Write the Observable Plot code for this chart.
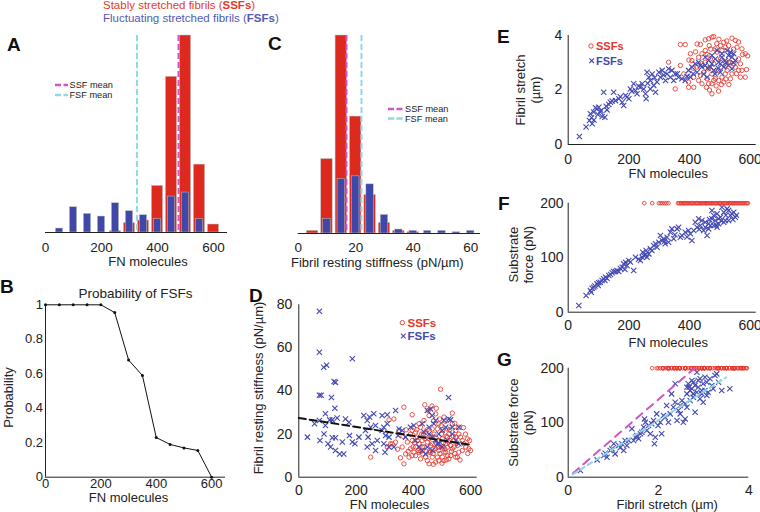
<!DOCTYPE html>
<html><head><meta charset="utf-8">
<script src="https://cdn.jsdelivr.net/npm/d3@7"></script>
<script src="https://cdn.jsdelivr.net/npm/@observablehq/plot@0.6"></script>
<style>
body{margin:0;background:#fff}
#fig{position:relative;width:760px;height:512px;overflow:hidden;font-family:"Liberation Sans",Arial,Helvetica,sans-serif}
</style></head>
<body><div id="fig"></div>
<script>
// ---------- data ----------
// Panel A: FN molecules histogram
const ssfFnBins = [250,300,350,400,450,500,550,600];
const ssfFnCounts = [1,7,9,35,117,148,51,6];
const fsfFnBins = [50,100,150,200,250,300,350,400,450,500,550];
const fsfFnCounts = [3,19,14,12,22,16,13,10,27,30,10];
const ssfFnMean = 475, fsfFnMean = 327;
// Panel C: resting stiffness histogram
const ssfKBins = [5,10,15,20,25,30,35,40];
const ssfKCounts = [2,56,149,88,29,8,2,1];
const fsfKBins = [10,15,20,25,30,35,40,45,50,55,60];
const fsfKCounts = [11,41,43,37,14,3,2,2,2,1,2];
const ssfKMean = 16.8, fsfKMean = 22.0;
// Panel B: probability of FSFs
const probFn = [0,50,100,150,200,250,300,350,400,450,500,550,600];
const probFsf = [1,1,1,1,1,0.955,0.68,0.59,0.23,0.19,0.17,0.155,0];
// Panel D: stiffness vs FN  [FN, stiffness]
const fsfStiff = [[72,77],[72,58],[87,51],[97,52],[187,55],[123,44.4],[128,44],[72,38],[78,38],[114,37],[126,32],[93,29.4],[30,18.6],[55,24.8],[72,26.3],[93,24],[108,26.6],[117,26.6],[134,27.5],[163,27],[175,25.5],[74,17],[88,20],[102,15.5],[117,18.3],[128,18.3],[111,14],[128,12.4],[143,10.8],[157,10.8],[152,16.3],[177,19.3],[187,16.3],[196,15.5],[210,18.6],[227,28.6],[239,26.3],[247,27.9],[262,29.4],[233,21.7],[251,23.2],[268,24],[256,15.5],[274,17],[242,18.6],[239,14],[268,12.4],[291,28.6],[309,29],[297,23.2],[309,24.8],[291,21.7],[315,18.6],[303,19.3],[297,15.5],[315,14],[301,11.6],[338,31],[332,14],[350,22.4],[361,21.7],[347,19.3],[373,18.6],[390,23.2],[402,24],[408,17],[420,14],[431,24.8],[437,21],[449,31],[460,31.7],[466,28.6],[478,26.3],[455,20],[466,18.6],[478,17],[489,20],[501,21.7],[449,14],[466,12.4],[484,15.5],[524,27],[530,26.6],[523,37],[507,26.3],[513,23.2],[536,23.2],[559,23.2],[519,17],[536,20],[501,14],[548,17],[559,15.5],[431,12.4],[443,10.8],[455,23.2],[472,24.8],[489,15.5]];
const ssfStiff = [[495,40.8],[367,32.5],[440,33.6],[536,29.7],[396,29],[315,26.6],[332,27],[350,21.7],[367,6.2],[251,9.3],[326,15.5],[338,16.3],[373,10.8],[385,9.3],[396,17],[399,14],[402,11.6],[414,18.6],[420,15.5],[417,12.4],[431,17],[437,14],[433,10.8],[429,20],[443,9.3],[449,7.7],[455,11.6],[460,14.7],[455,17.8],[466,9.3],[472,13.2],[478,16.3],[484,9.3],[472,20],[484,22.4],[489,12.4],[495,14.7],[501,17.8],[501,9.3],[507,7.7],[513,11.6],[519,13.9],[524,16.3],[524,20],[530,10],[536,13.2],[542,17],[548,9.3],[554,14.7],[559,11.6],[565,18.6],[571,12.4],[577,15.5],[583,14],[589,17.8],[594,13.2],[600,12.4],[420,24.8],[437,26.3],[455,28.6],[478,29.4],[507,27.9],[536,24.8],[548,21.7],[559,23.2],[408,20.9],[425,23.2],[443,20.9],[466,22.4],[489,24.8],[519,22.4],[390,20],[396,21.7],[379,16.3],[361,14],[390,13.2],[408,10],[425,8.5],[455,6.2],[478,7],[489,7.7],[524,8.5],[554,9.3],[449,16.3],[466,15.5],[478,13.2],[489,17],[513,15.5],[519,18.6],[530,14.7],[542,14],[501,14],[507,11.6],[431,14],[460,11.6],[559,20],[571,17],[548,18.6],[420,11.6],[408,14],[414,17],[309,14],[320,15.5],[462,19],[470,11],[480,18],[487,14],[493,11],[498,20],[505,16],[510,13],[515,19],[520,10],[527,17],[533,12],[540,19],[545,11],[552,16],[497,24],[503,22],[492,27],[512,26],[470,26],[448,22],[440,18],[445,12],[435,20],[426,12],[412,22],[404,16],[395,10],[382,12],[375,22],[364,19],[355,9],[345,13],[500,6.5],[470,6],[515,8],[480,32],[465,33],[452,31],[582,20],[590,11],[596,17],[575,23],[563,8],[545,25],[527,22]];
const fitFn = [0,600], fitStiff = [27.5,15];
// Panel E: stretch vs FN  [FN, stretch]
const fsfStretch = [[37,0.29],[59,0.64],[70,0.88],[77,0.98],[79,0.76],[73,1.13],[84,1.19],[90,1.35],[95,1.3],[101,1.37],[106,1.19],[112,1.03],[121,1.0],[117,1.92],[128,1.27],[134,1.47],[139,1.55],[150,1.92],[156,1.61],[167,1.68],[178,1.55],[183,1.43],[189,1.8],[194,1.74],[200,1.68],[205,2.04],[216,2.23],[222,1.98],[227,1.86],[238,2.1],[244,2.23],[249,2.04],[255,1.86],[257,1.68],[260,2.65],[266,2.47],[271,2.35],[277,2.59],[271,2.04],[282,2.17],[288,1.92],[293,2.29],[299,2.65],[304,2.47],[310,2.72],[321,2.35],[326,2.59],[331,2.78],[342,2.72],[337,2.47],[348,2.35],[353,2.59],[364,2.47],[375,2.41],[386,2.35],[397,2.72],[403,2.47],[408,2.84],[419,2.96],[430,3.02],[441,2.84],[452,2.9],[463,3.08],[474,2.96],[485,3.14],[496,3.02],[507,3.2],[518,3.08],[529,3.27],[540,3.2],[546,3.33],[551,3.08],[425,2.65],[447,2.59],[458,2.47],[480,2.72],[502,2.65],[513,2.84],[529,2.9],[540,2.78],[474,3.27],[491,3.45],[507,3.33],[524,3.45],[535,3.39],[452,3.2],[469,2.84],[485,2.59],[502,2.96],[85,0.9],[98,1.1],[108,1.25],[125,1.4],[145,1.6],[172,1.75],[210,1.95],[232,2.15],[262,2.25],[285,2.45],[315,2.55],[360,2.6],[392,2.5],[412,2.6],[436,2.9],[460,2.8],[495,2.8],[520,3.0],[545,3.0]];
const ssfStretch = [[370,3.67],[386,3.67],[425,3.69],[436,3.67],[452,3.84],[463,3.88],[474,3.94],[480,3.96],[465,3.63],[502,3.63],[513,3.75],[518,3.57],[551,3.82],[562,3.76],[573,3.51],[584,3.33],[557,3.57],[584,2.47],[562,2.72],[568,2.47],[331,3.02],[353,2.04],[370,2.9],[381,2.59],[397,2.1],[414,2.1],[397,2.29],[403,3.33],[408,3.08],[414,2.47],[474,1.86],[496,1.96],[430,2.35],[441,2.23],[463,2.23],[480,2.35],[430,3.2],[441,3.33],[452,3.02],[463,2.78],[474,2.59],[485,2.41],[496,2.72],[507,2.47],[518,2.59],[529,3.02],[540,2.59],[551,2.84],[447,2.65],[458,2.41],[469,3.14],[480,2.96],[491,3.39],[502,3.14],[513,2.29],[524,2.72],[535,2.41],[546,2.96],[425,2.84],[436,2.53],[452,3.45],[485,3.51],[529,3.63],[562,3.14],[568,2.96],[573,2.72],[441,2.96],[474,2.23],[496,2.35],[518,2.9],[507,3.45],[456,2.1],[466,2.0],[488,2.15],[505,2.2],[520,2.4],[535,3.0],[545,3.5],[490,3.7],[470,3.5],[458,3.3],[420,3.4],[398,3.1],[412,2.8],[530,2.2],[555,2.6],[575,3.3],[592,3.25],[588,2.75],[497,3.86],[523,3.8],[540,3.9]];
// Panel F: substrate force vs FN  [FN, force]
const fsfForce = [[35,12.3],[59,30.6],[73,39.8],[79,44],[76,36.7],[84,45.9],[95,52],[101,53.9],[106,55],[99,49],[117,61.2],[123,64.3],[128,62.4],[134,67.3],[121,58.1],[145,72.2],[150,74.7],[156,74.7],[161,76.5],[167,74.7],[178,82.6],[183,88.7],[189,91.8],[194,85.7],[187,78.3],[200,94.8],[216,76.5],[222,100.9],[238,94.8],[244,100.9],[249,104],[255,105.2],[260,100.9],[266,107],[246,110.1],[257,113.2],[271,116.2],[282,122.4],[288,125.4],[293,119.3],[299,128.5],[304,140.7],[310,131.5],[315,134.6],[320,125.4],[326,137.6],[331,128.5],[337,146.8],[342,152.9],[348,134.6],[359,152.9],[364,156],[370,137.6],[375,140.7],[386,146.8],[397,149.9],[403,143.8],[408,131.5],[414,149.9],[419,165.2],[425,156],[430,171.3],[436,159.1],[441,168.2],[447,149.9],[452,156],[458,140.7],[463,162.1],[469,159.1],[474,171.3],[480,177.4],[485,168.2],[491,180.5],[496,171.3],[502,174.3],[507,192.7],[513,183.5],[518,168.2],[524,189.6],[529,186.6],[535,177.4],[540,180.5],[546,183.5],[551,174.3],[452,165.2],[463,152.9],[480,159.1],[496,162.1],[513,165.2],[529,168.2],[491,156],[474,186.6],[88,48],[112,58],[140,69],[172,80],[205,92],[232,97],[276,113],[318,130],[352,142],[392,138],[432,152],[466,170],[488,160],[505,168],[520,178],[543,170],[555,178]];
const ssfForceFn = [251,277,299,305,311,318,324,331,362,366,371,374,379,383,386,391,395,398,403,407,410,414,419,423,426,431,434,438,442,447,451,455,458,462,467,471,474,478,483,487,490,495,499,502,506,511,515,518,523,527,531,534,539,543,547,551,556,560,563,568,572,576,580,585,589,593];
const ssfForceValue = 200;
// Panel G: force vs stretch  [stretch, force]
const fsfForceStretch = [[0.27,12.3],[0.64,31.8],[0.79,39.8],[0.82,44],[0.86,36.7],[0.93,49],[0.97,52],[1.04,42.8],[1.01,61.2],[1.12,58.1],[1.15,53.9],[1.19,61.2],[1.23,49],[1.30,58.1],[1.26,67.3],[1.34,67.3],[1.41,88.7],[1.45,67.3],[1.49,73.4],[1.52,76.5],[1.56,70.4],[1.60,79.6],[1.63,82.6],[1.67,91.8],[1.71,100.9],[1.69,107],[1.74,85.7],[1.78,94.8],[1.82,79.6],[1.85,97.9],[1.89,104],[1.91,61.2],[1.93,73.4],[1.96,116.2],[1.99,94.8],[2.04,100.9],[2.07,79.6],[2.11,113.2],[2.15,110.1],[2.18,131.5],[2.22,100.9],[2.26,116.2],[2.29,152.9],[2.33,128.5],[2.37,171.3],[2.41,104],[2.44,122.4],[2.48,116.2],[2.52,140.7],[2.55,100.9],[2.59,107],[2.63,128.5],[2.66,171.3],[2.68,165.2],[2.70,159.1],[2.74,177.4],[2.77,146.8],[2.81,119.3],[2.85,192.7],[2.88,165.2],[2.92,180.5],[2.96,152.9],[2.99,171.3],[3.03,159.1],[3.07,174.3],[3.10,156],[3.14,180.5],[3.18,168.2],[3.21,162.1],[3.25,186.6],[3.29,189.6],[3.33,174.3],[3.40,159.1],[3.58,162.1],[2.37,137.6],[2.48,131.5],[2.59,134.6],[2.70,140.7],[2.77,152.9],[2.85,156],[2.92,143.8],[2.99,137.6],[3.07,149.9],[2.63,165.2],[2.74,162.1],[2.81,168.2],[2.88,177.4],[2.96,159.1],[3.03,183.5],[2.63,152.9],[2.77,174.3]];
const ssfLine = [[0.1,7],[2.8,200]];
const fsfLine = [[0.1,5],[3.5,183]];

// ---------- styles ----------
const RED = "#de2a1e", BLUE = "#3f47a8", RDOT = "#e5352c", BDOT = "#4349b2";
const MAG = "#cf55c8", CYAN = "#8ed9e6", AX = "#222";
const FONT = '"Liberation Sans", Arial, Helvetica, sans-serif';
const fig = document.getElementById("fig");
const fmt = d => String(d);

function panel(o) {
  const svg = Plot.plot({
    width: o.w, height: o.h,
    marginLeft: o.ml, marginRight: o.mr, marginTop: o.mt, marginBottom: o.mb,
    style: {fontFamily: FONT, fontSize: o.fs + "px", color: AX, background: "transparent", overflow: "visible"},
    x: o.x, y: o.y, marks: o.marks
  });
  svg.style.position = "absolute";
  svg.style.left = o.left + "px";
  svg.style.top = o.top + "px";
  fig.appendChild(svg);
}
const xLabel = (t, dx, dy, fs = 13) => Plot.text([t], {text: d => d, frameAnchor: "bottom", textAnchor: "middle", lineAnchor: "middle", dx, dy, fontSize: fs, fill: AX});
const yLabel = (t, dx, dy, fs = 13) => Plot.text([t], {text: d => d, frameAnchor: "left", textAnchor: "middle", lineAnchor: "middle", rotate: -90, dx, dy, fontSize: fs, fill: AX});
const bars = (bins, counts, half, fill) => Plot.rectY(bins.map((b, i) => ({b, n: counts[i]})),
  {x1: d => d.b - half, x2: d => d.b + half, y: "n", fill, stroke: "#c4c4c4", strokeWidth: 0.5});
const crosses = (data) => Plot.dot(data, {x: d => d[0], y: d => d[1], symbol: "times", r: 2.5, stroke: BDOT, strokeWidth: 1.1});
const rings = (data, r = 2.2) => Plot.dot(data, {x: d => d[0], y: d => d[1], r, stroke: RDOT, fill: "none", strokeWidth: 0.85});
const dash = {strokeWidth: 2, strokeDasharray: "6,3"};

// A
panel({left: 0, top: 0, w: 240, h: 270, ml: 45, mr: 13, mt: 35, mb: 38, fs: 13.5,
  x: {domain: [0, 650], ticks: [0, 200, 400, 600], tickFormat: fmt, tickSize: 0, tickPadding: 10, label: null},
  y: {domain: [0, 148], axis: null},
  marks: [
    bars(ssfFnBins, ssfFnCounts, 20, RED),
    bars(fsfFnBins, fsfFnCounts, 13, BLUE),
    Plot.ruleX([fsfFnMean], {stroke: CYAN, ...dash}),
    Plot.ruleX([ssfFnMean], {stroke: MAG, ...dash}),
    Plot.ruleY([0], {stroke: AX}),
    xLabel("FN molecules", 11.5, 29.5)
  ]});

// C
panel({left: 250, top: 0, w: 240, h: 270, ml: 47.7, mr: 10, mt: 35, mb: 37, fs: 13.5,
  x: {domain: [0, 63.4], ticks: [0, 20, 40, 60], tickFormat: fmt, tickSize: 0, tickPadding: 9, label: null},
  y: {domain: [0, 149], axis: null},
  marks: [
    bars(ssfKBins, ssfKCounts, 2, RED),
    bars(fsfKBins, fsfKCounts, 1.3, BLUE),
    Plot.ruleX([fsfKMean], {stroke: CYAN, ...dash}),
    Plot.ruleX([ssfKMean], {stroke: MAG, ...dash}),
    Plot.ruleY([0], {stroke: AX}),
    xLabel("Fibril resting stiffness (pN/µm)", -12, 29.5)
  ]});

// B
const probData = probFn.map((x, i) => ({x, p: probFsf[i]}));
panel({left: 0, top: 270, w: 240, h: 242, ml: 45, mr: 15, mt: 34.3, mb: 35.3, fs: 13,
  x: {domain: [0, 650], ticks: [0, 200, 400, 600], tickFormat: fmt, tickSize: 0, tickPadding: 1.5, label: null},
  y: {domain: [0, 1], ticks: [0, 0.2, 0.4, 0.6, 0.8, 1], tickFormat: fmt, tickSize: 0, tickPadding: 2.5, label: null},
  marks: [
    Plot.ruleY([0], {stroke: AX}),
    Plot.ruleX([0], {stroke: AX}),
    Plot.line(probData, {x: "x", y: "p", stroke: "#111", strokeWidth: 1}),
    Plot.dot(probData, {x: "x", y: "p", r: 1.5, fill: "#111", stroke: "none"}),
    Plot.text(["Probability of FSFs"], {text: d => d, frameAnchor: "top", textAnchor: "middle", lineAnchor: "middle", dy: -11.3, fontSize: 13.5, fill: AX}),
    xLabel("FN molecules", -7, 20.5),
    yLabel("Probability", -37, 6.5)
  ]});

// D
panel({left: 250, top: 270, w: 240, h: 242, ml: 48.3, mr: 13.3, mt: 34.3, mb: 35.3, fs: 14,
  x: {domain: [0, 623], ticks: [0, 200, 400, 600], tickFormat: fmt, tickSize: 0, tickPadding: 8, label: null},
  y: {domain: [0, 80], ticks: [0, 20, 40, 60, 80], tickFormat: fmt, tickSize: 0, tickPadding: 6.5, label: null},
  marks: [
    Plot.ruleY([0], {stroke: AX}),
    Plot.ruleX([0], {stroke: AX}),
    rings(ssfStiff),
    crosses(fsfStiff),
    Plot.line(fitFn.map((x, i) => ({x, y: fitStiff[i]})), {x: "x", y: "y", stroke: "#111", strokeWidth: 2, strokeDasharray: "7,4"}),
    xLabel("FN molecules", 1.5, 27.8),
    yLabel("Fibril resting stiffness (pN/µm)", -40, -3)
  ]});

// E
panel({left: 500, top: 0, w: 260, h: 180, ml: 67.7, mr: 4.3, mt: 35, mb: 36, fs: 14,
  x: {domain: [0, 620], ticks: [0, 200, 400, 600], tickFormat: fmt, tickSize: 0, tickPadding: 9.5, label: null},
  y: {domain: [0, 4], ticks: [0, 2, 4], tickFormat: fmt, tickSize: 0, tickPadding: 6, label: null},
  marks: [
    Plot.ruleY([0], {stroke: AX}),
    Plot.ruleX([0], {stroke: AX}),
    rings(ssfStretch),
    crosses(fsfStretch),
    xLabel("FN molecules", 6, 29.5),
    yLabel("Fibril stretch", -47.7, 0),
    yLabel("(µm)", -32.7, 0)
  ]});

// F
panel({left: 500, top: 180, w: 260, h: 170, ml: 67.7, mr: 4.3, mt: 22.7, mb: 38.3, fs: 14,
  x: {domain: [0, 620], ticks: [0, 200, 400, 600], tickFormat: fmt, tickSize: 0, tickPadding: 8.3, label: null},
  y: {domain: [0, 200], ticks: [0, 100, 200], tickFormat: fmt, tickSize: 0, tickPadding: 4.7, label: null},
  marks: [
    Plot.ruleY([0], {stroke: AX}),
    Plot.ruleX([0], {stroke: AX}),
    crosses(fsfForce),
    rings(ssfForceFn.map(x => [x, ssfForceValue]), 1.8),
    xLabel("FN molecules", 6, 30.3),
    yLabel("Substrate", -54.7, -3),
    yLabel("force (pN)", -39.7, -3)
  ]});

// G
panel({left: 500, top: 350, w: 260, h: 162, ml: 67.7, mr: 11.7, mt: 17.7, mb: 35.3, fs: 14,
  x: {domain: [0, 4], ticks: [0, 2, 4], tickFormat: fmt, tickSize: 0, tickPadding: 7.5, label: null},
  y: {domain: [0, 200], ticks: [0, 100, 200], tickFormat: fmt, tickSize: 0, tickPadding: 4.4, label: null},
  marks: [
    Plot.ruleY([0], {stroke: AX}),
    Plot.ruleX([0], {stroke: AX}),
    crosses(fsfForceStretch),
    rings(ssfStretch.map(d => [d[1], ssfForceValue]), 1.8),
    Plot.line(ssfLine, {x: d => d[0], y: d => d[1], stroke: MAG, strokeWidth: 2, strokeDasharray: "8,6"}),
    Plot.line(fsfLine, {x: d => d[0], y: d => d[1], stroke: CYAN, strokeWidth: 2, strokeDasharray: "5,4"}),
    xLabel("Fibril stretch (µm)", 8.7, 27.5),
    yLabel("Substrate force", -54.7, 0),
    yLabel("(pN)", -39.7, 0)
  ]});

// ---------- overlay: titles, panel letters, legends ----------
const cross = (cx, cy, s) => `<path d="M${cx-s},${cy-s}L${cx+s},${cy+s}M${cx-s},${cy+s}L${cx+s},${cy-s}" stroke="${BDOT}" stroke-width="1.1"/>`;
const ov = document.createElement("div");
ov.innerHTML = `<svg width="760" height="512" style="position:absolute;left:0;top:0;overflow:visible" font-family='${FONT}'>
<text x="103" y="8.8" font-size="11.5" fill="#e5392d">Stably stretched fibrils (<tspan font-weight="bold">SSFs</tspan>)</text>
<text x="103" y="21.8" font-size="11.5" fill="#5259b5">Fluctuating stretched fibrils (<tspan font-weight="bold">FSFs</tspan>)</text>
<g font-size="19" font-weight="bold" fill="#111">
<text x="7" y="51">A</text><text x="268" y="50">C</text><text x="0" y="292.5">B</text>
<text x="249" y="302">D</text><text x="497" y="43">E</text><text x="498" y="210">F</text><text x="497" y="366">G</text>
</g>
<g font-size="9.2" fill="#222">
<line x1="55" x2="68" y1="85" y2="85" stroke="${MAG}" stroke-width="2.5" stroke-dasharray="6,2.5"/>
<text x="69.5" y="88.3">SSF mean</text>
<line x1="55" x2="68" y1="95" y2="95" stroke="${CYAN}" stroke-width="2.5" stroke-dasharray="6,2.5"/>
<text x="69.5" y="98.3">FSF mean</text>
<line x1="388" x2="403" y1="109" y2="109" stroke="${MAG}" stroke-width="2.5" stroke-dasharray="6,2.5"/>
<text x="405" y="112.3">SSF mean</text>
<line x1="388" x2="403" y1="118.5" y2="118.5" stroke="${CYAN}" stroke-width="2.5" stroke-dasharray="6,2.5"/>
<text x="405" y="121.7">FSF mean</text>
</g>
<g font-size="11.5" font-weight="bold">
<circle cx="402.3" cy="322.7" r="2.2" fill="none" stroke="${RDOT}" stroke-width="0.9"/>
<text x="407.5" y="327" fill="${RDOT}">SSFs</text>
${cross(403.3, 336, 2.3)}
<text x="407.5" y="340.3" fill="${BDOT}">FSFs</text>
</g>
<g font-size="11" font-weight="bold">
<circle cx="591" cy="46" r="2.2" fill="none" stroke="${RDOT}" stroke-width="0.9"/>
<text x="596" y="50" fill="${RDOT}">SSFs</text>
${cross(591.7, 60.7, 2.3)}
<text x="596" y="64.7" fill="${BDOT}">FSFs</text>
</g>
</svg>`;
fig.appendChild(ov.firstElementChild);
</script>
</body></html>
